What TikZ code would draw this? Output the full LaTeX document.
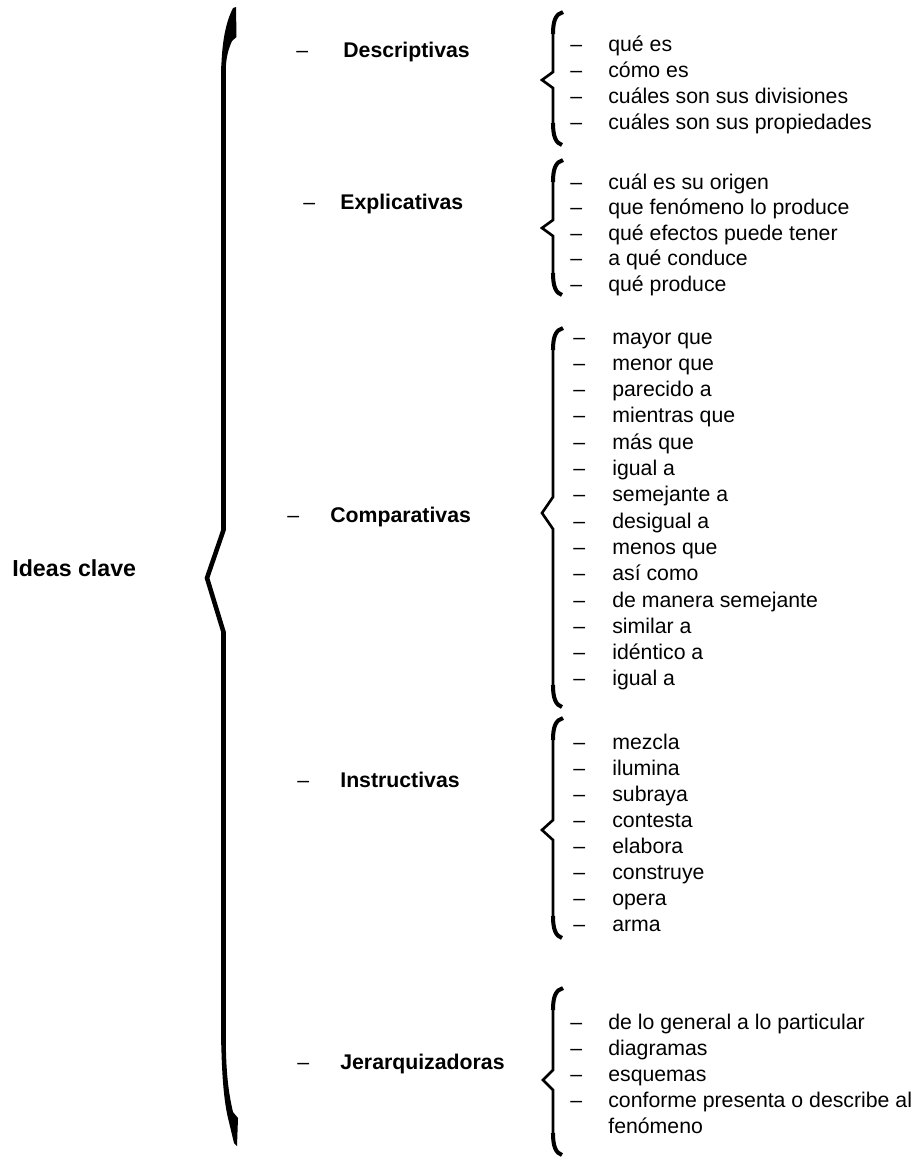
\documentclass[tikz,border=0pt]{standalone}
\usepackage{fontspec}
\setmainfont{Liberation Sans}

% dash in front of every entry
\newcommand{\guion}[1]{\makebox[#1][l]{\mdseries –}}
% curly brace: x, top, cusp, bottom, cusp half height, cusp depth
\newcommand{\llave}[6]{%
  \draw[brace] (#1,#2+20) -- (#1,#3-#5) -- (#1-#6,#3) -- (#1,#3+#5) -- (#1,#4-20);
  \draw[bracetip] (#1,#2+22) .. controls (#1,#2+8) and (#1+3,#2+2) .. (#1+10,#2);
  \draw[bracetip] (#1,#4-22) .. controls (#1,#4-8) and (#1+3,#4-2) .. (#1+9,#4);
}

\begin{document}
\begin{tikzpicture}[
    x=0.02cm, y=-0.02cm,
    brace/.style={line width=1.5pt, line join=miter},
    bracetip/.style={line width=2.3pt},
    bigbrace/.style={line width=2.6pt, line join=miter},
    item/.style={anchor=base west, inner sep=0pt, font=\fontsize{12.1}{14.7}\selectfont},
    head/.style={anchor=base west, inner sep=0pt, font=\fontsize{12.1}{14.7}\selectfont\bfseries},
    title/.style={anchor=base west, inner sep=0pt, font=\fontsize{13.2}{16}\selectfont\bfseries}
]
    \useasboundingbox (0,0) rectangle (920,1161);

    % Main idea
    \node[title] (ideas) at (12,576) {Ideas clave};

    % Big brace
    \draw[bigbrace] (223.5,66) -- (223.5,530) -- (207,578) -- (223.5,632) -- (223.5,1045);
    \fill (233,8) -- (236,7) -- (236.5,37) -- (232,41) .. controls (228,50) and (226,58) .. (225.8,70)
        -- (221.2,70) .. controls (222,40) and (226,22) .. (233,8) -- cycle;
    \fill (221.2,1040) .. controls (222,1085) and (225,1105) .. (228,1118) -- (234,1143) -- (237,1146)
        -- (238,1118) -- (233,1112) .. controls (229,1095) and (226,1075) .. (225.8,1040) -- cycle;

    % Categories
    \node[head] (desc) at (296,57) {\guion{0.94cm}Descriptivas};
    \node[head] (expl) at (303,209) {\guion{0.74cm}Explicativas};
    \node[head] (comp) at (287,522) {\guion{0.86cm}Comparativas};
    \node[head] (inst) at (297,787) {\guion{0.86cm}Instructivas};
    \node[head] (jera) at (297,1069) {\guion{0.86cm}Jerarquizadoras};

    % Small braces
    \llave{553}{12}{80}{145}{8}{11}
    \llave{553}{160}{228}{295}{8}{11}
    \llave{553}{328}{513}{707}{16}{11}
    \llave{553}{718}{830}{938}{10}{11}
    \llave{553}{988}{1080}{1155}{10}{10}

    % Entries
    \foreach \t [count=\i] in {qué es, cómo es, cuáles son sus divisiones, cuáles son sus propiedades}
        \node[item] (d\i) at (570,{51+26*(\i-1)}) {\guion{0.76cm}\t};
    \foreach \t [count=\i] in {cuál es su origen, que fenómeno lo produce, qué efectos puede tener,
        a qué conduce, qué produce}
        \node[item] (e\i) at (570,{189+25.5*(\i-1)}) {\guion{0.76cm}\t};
    \foreach \t [count=\i] in {mayor que, menor que, parecido a, mientras que, más que, igual a,
        semejante a, desigual a, menos que, así como, de manera semejante, similar a, idéntico a, igual a}
        \node[item] (c\i) at (573,{344+26.3*(\i-1)}) {\guion{0.78cm}\t};
    \foreach \t [count=\i] in {mezcla, ilumina, subraya, contesta, elabora, construye, opera, arma}
        \node[item] (i\i) at (573,{749+26.1*(\i-1)}) {\guion{0.78cm}\t};
    \foreach \t [count=\i] in {de lo general a lo particular, diagramas, esquemas,
        conforme presenta o describe al}
        \node[item] (j\i) at (570,{1029+26*(\i-1)}) {\guion{0.76cm}\t};
    \node[item] (j5) at (608,1133) {fenómeno};
\end{tikzpicture}
\end{document}
